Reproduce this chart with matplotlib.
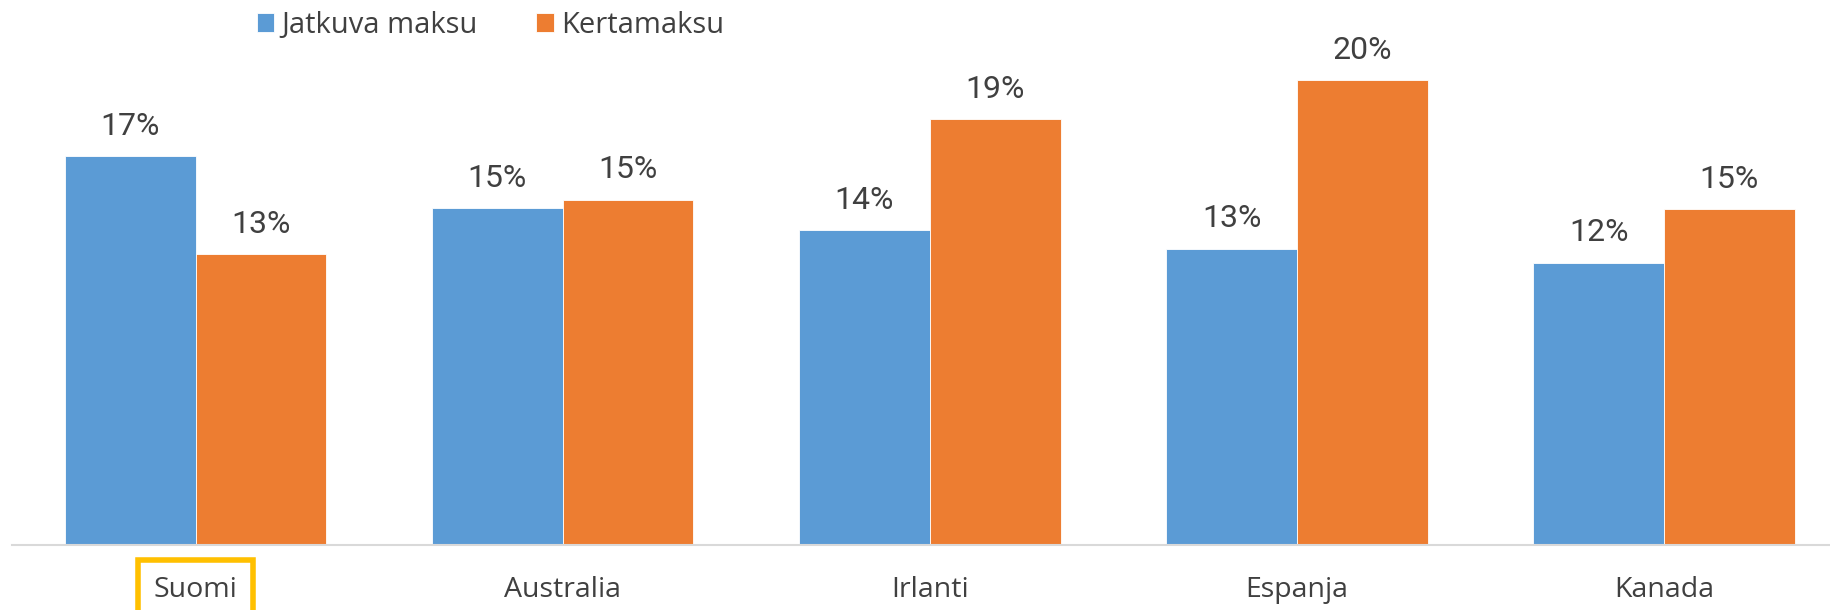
import matplotlib.pyplot as plt
import numpy as np

countries = ['Suomi', 'Australia', 'Irlanti', 'Espanja', 'Kanada']
jatkuva = [16.99, 14.74, 13.78, 12.96, 12.35]
kerta = [12.70, 15.10, 18.62, 20.31, 14.69]
series_names = ['Jatkuva maksu', 'Kertamaksu']

blue = '#5B9BD5'
orange = '#ED7D31'
txt = '#404040'

fig = plt.figure(figsize=(18.3, 6.1), dpi=100)
# plot area runs slightly past the right edge, as in the cropped original
ax = fig.add_axes([0.0066, 0.1066, 1.003, 0.8279])

x = np.arange(len(countries))
w = 0.356
b1 = ax.bar(x - w / 2, jatkuva, w, color=blue, edgecolor='white', linewidth=0.6, label=series_names[0])
b2 = ax.bar(x + w / 2, kerta, w, color=orange, edgecolor='white', linewidth=0.6, label=series_names[1])

for bars, vals in ((b1, jatkuva), (b2, kerta)):
    for rect, v in zip(bars, vals):
        ax.annotate(f'{round(v)}%', (rect.get_x() + rect.get_width() / 2, v),
                    xytext=(0, 11), textcoords='offset points', ha='center', va='bottom',
                    fontsize=23, color=txt, family='Roboto')

ax.set_xlim(-0.5, len(countries) - 0.5)
ax.set_ylim(0, 22.08)
ax.set_yticks([])
for s in ('top', 'right', 'left'):
    ax.spines[s].set_visible(False)
ax.spines['bottom'].set_color('#D9D9D9')
ax.spines['bottom'].set_linewidth(1.5)

ax.set_xticks(x)
ax.set_xticklabels(countries, fontsize=20.5, color=txt, family='Open Sans')
ax.tick_params(axis='x', length=0, pad=22)
lab = ax.get_xticklabels()[0]
lab.set_bbox(dict(boxstyle='square,pad=0.55', fc='none', ec='#FFC000', lw=4))

leg = fig.legend(loc='upper left', bbox_to_anchor=(0.126, 1.025), ncol=2, frameon=False,
                 prop={'family': 'Open Sans', 'size': 21}, handlelength=0.6, handleheight=0.6,
                 handletextpad=0.25, columnspacing=2.0)
for t in leg.get_texts():
    t.set_color(txt)

fig.savefig('out.png', dpi=100)
